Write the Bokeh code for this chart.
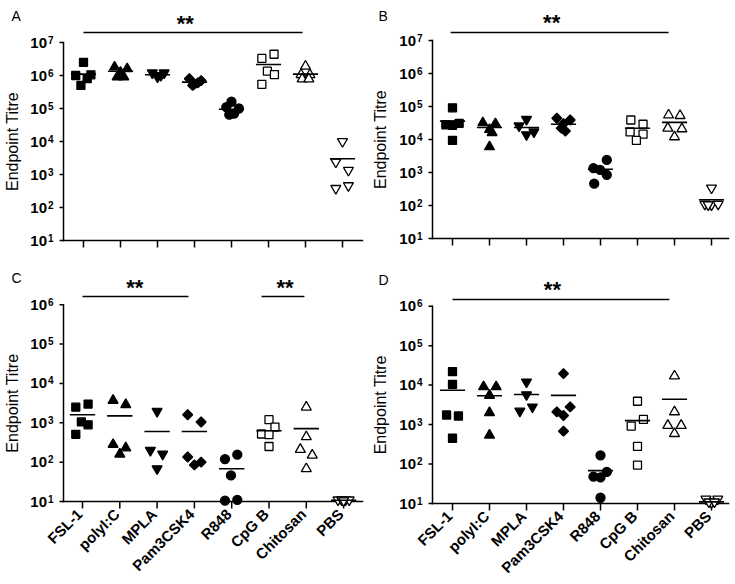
import math
from bokeh.plotting import figure
from bokeh.layouts import row, column
from bokeh.embed import file_html
from bokeh.resources import INLINE
from bokeh.core.properties import value

FONT = "Liberation Sans"

categories = ["FSL-1", "polyI:C", "MPLA", "Pam3CSK4", "R848", "CpG B", "Chitosan", "PBS"]

# ---- Panel A ----
A_values = [
    [2.5e6, 1.0e6, 1.05e6, 5e5, 8e5],
    [1.8e6, 1.6e6, 1.25e6, 9e5, 9e5],
    [1.2e6, 1.2e6, 9e5, 1.0e6],
    [8e5, 7e5, 5.5e5, 5e5, 6e5],
    [1.6e5, 1.1e5, 1.0e5, 6.5e4, 7e4],
    [3.3e6, 4.4e6, 1.35e6, 1.07e6, 5.4e5],
    [1.9e6, 1.05e6, 1.05e6, 7.8e5, 7.8e5],
    [1.0e4, 2.4e3, 1.35e3, 3.8e2, 4.6e2],
]
A_jitter = [
    [0, -0.21, 0.2, -0.07, 0.1],
    [-0.16, 0.18, 0, -0.09, 0.09],
    [-0.14, 0.18, 0, 0.09],
    [-0.14, 0.18, 0, -0.05, 0.09],
    [0, -0.14, 0.2, -0.06, 0.07],
    [-0.18, 0.15, -0.03, 0.16, -0.18],
    [0, -0.12, 0.12, -0.09, 0.09],
    [0, -0.18, 0.16, -0.18, 0.16],
]
A_means = [1.1e6, 1.35e6, 1.05e6, 6.3e5, 9.5e4, 2.15e6, 1.1e6, 3.0e3]

# ---- Panel B ----
B_values = [
    [9.1e4, 2.8e4, 3.1e4, 2.7e4, 9.4e3],
    [3.2e4, 3.0e4, 2.0e4, 1.6e4, 6e3],
    [4.1e4, 2.6e4, 1.7e4, 1.4e4],
    [4.4e4, 3.9e4, 3.0e4, 2.2e4, 1.8e4],
    [2.4e3, 1.35e3, 1.2e3, 8.5e2, 4.6e2],
    [3.9e4, 2.9e4, 1.7e4, 1.45e4, 9.4e3],
    [5.5e4, 5.3e4, 2.2e4, 2.1e4, 1.2e4],
    [3.4e2, 1.1e2, 1.05e2, 1.1e2, 1.05e2],
]
B_jitter = [
    [0, -0.18, 0.18, 0, 0],
    [-0.18, 0.16, 0, 0.07, 0],
    [0, -0.2, 0.2, 0],
    [-0.18, 0.18, 0, -0.06, 0.05],
    [0.17, -0.19, -0.01, 0.17, -0.17],
    [-0.18, 0.15, -0.2, 0.15, -0.03],
    [-0.16, 0.15, -0.18, 0.2, 0],
    [0, -0.18, 0, 0.18, -0.09],
]
B_means = [3.6e4, 2.3e4, 2.3e4, 2.9e4, 1.26e3, 2.2e4, 3.3e4, 1.5e2]

# ---- Panel C ----
C_values = [
    [2.5e3, 3.0e3, 1.05e3, 8.9e2, 5.1e2],
    [3.7e3, 2.9e3, 2.8e2, 2.3e2, 1.6e2],
    [1.95e3, 2.0e2, 1.6e2, 68],
    [1.6e3, 1.05e3, 1.35e2, 85, 1.0e2],
    [1.2e2, 1.55e2, 46, 10.5, 11],
    [1.2e3, 7.8e2, 5.2e2, 5.0e2, 2.5e2],
    [2.5e3, 4.4e2, 2.1e2, 1.5e2, 68],
    [11, 11, 11, 11, 10.5],
]
C_jitter = [
    [-0.18, 0.15, -0.03, 0.15, -0.18],
    [-0.18, 0.16, -0.18, 0.16, 0],
    [0, -0.18, 0.15, 0],
    [-0.18, 0.18, -0.18, 0, 0.18],
    [-0.18, 0.15, -0.02, -0.18, 0.15],
    [0, 0.16, -0.2, 0, 0],
    [0, 0, -0.16, 0.16, 0],
    [-0.15, -0.05, 0.05, 0.15, 0],
]
C_means = [1.6e3, 1.5e3, 6.0e2, 6.0e2, 68, 6.3e2, 7.1e2, 10.8]

# ---- Panel D ----
D_values = [
    [2.2e4, 1.05e4, 1.75e3, 1.65e3, 4.5e2],
    [9.1e3, 9.1e3, 5.5e3, 2.0e3, 5.4e2],
    [1.2e4, 5.7e3, 2.2e3, 2.8e3],
    [1.96e4, 2.8e3, 2.1e3, 1.7e3, 6.8e2],
    [1.66e2, 63, 48, 46, 14],
    [3.9e3, 1.35e3, 9.1e2, 2.8e2, 94],
    [1.7e4, 2.1e3, 9.5e2, 9.5e2, 5.9e2],
    [13, 13, 10.7, 11, 11],
]
D_jitter = [
    [0, 0, -0.16, 0.16, 0],
    [-0.16, 0.18, 0, 0, 0],
    [0, 0, -0.18, 0.16],
    [0, 0.18, -0.18, 0, 0],
    [0, 0.17, -0.19, 0, 0],
    [0, 0.16, -0.17, 0, 0],
    [0, 0, -0.18, 0.18, 0],
    [-0.15, 0.17, 0, -0.07, 0.08],
]
D_means = [7.4e3, 5.4e3, 5.8e3, 5.5e3, 68, 1.26e3, 4.4e3, 11]

# significance bars: (start category, end category, height, star position)
A_bars = [(0, 5.92, 2.0e7, 2.75)]
B_bars = [(-0.05, 5.84, 1.75e7, 2.68)]
C_bars = [(0, 2.84, 1.62e6, 1.4), (4.8, 5.95, 1.62e6, 5.43)]
D_bars = [(0, 5.86, 1.48e6, 2.7)]

marker_style = [
    ("square", True, 0.0, 8),
    ("triangle", True, 0.0, 10),
    ("inverted_triangle", True, 0.0, 10),
    ("square", True, math.pi / 4, 7),
    ("circle", True, 0.0, 9),
    ("square", False, 0.0, 8),
    ("triangle", False, 0.0, 10),
    ("inverted_triangle", False, 0.0, 10),
]

# page offsets of the layout (left / top), as measured in the rendered page
OFF_X, OFF_Y = 0, 0


def make_panel(letter, values, jitter, means, bars, left, top, W, H, cat0, spacing,
               y1, decade, top_decade, axis_x, axis_end, letter_xy, title_x, labels):
    """All geometry arguments are page pixels; the frame fills the whole canvas."""
    X = lambda px: (px - cat0) / spacing
    Y = lambda py: 10 ** (1 + (y1 - py) / decade)
    p = figure(width=W, height=H, x_range=(X(left), X(left + W)),
               y_range=(Y(top + H), Y(top)), y_axis_type="log",
               x_axis_location=None, y_axis_location=None, min_border=0,
               output_backend="svg", toolbar_location=None)
    p.outline_line_color = None
    for g in p.grid:
        g.visible = False

    ax = X(axis_x)
    k_ticks = list(range(1, top_decade + 1))
    tick_py = [y1 - (k - 1) * decade for k in k_ticks]
    # y axis
    p.segment(x0=[ax], y0=[10], x1=[ax], y1=[10 ** top_decade], line_color="black",
              line_width=1.5, line_cap="square")
    p.segment(x0=[X(axis_x - 4)] * len(k_ticks), y0=[10 ** k for k in k_ticks],
              x1=[ax] * len(k_ticks), y1=[10 ** k for k in k_ticks],
              line_color="black", line_width=1.5)
    p.text(x=[X(axis_x - 16.5)] * len(k_ticks), y=[10 ** k for k in k_ticks],
           text=["10"] * len(k_ticks), text_align="right", text_baseline="middle",
           text_font=value(FONT), text_font_size="15px", text_font_style="bold",
           text_color="black")
    p.text(x=[X(axis_x - 15.5)] * len(k_ticks), y=[Y(t - 3) for t in tick_py],
           text=[str(k) for k in k_ticks], text_align="left", text_baseline="middle",
           text_font=value(FONT), text_font_size="10px", text_font_style="bold",
           text_color="black")
    p.text(x=[X(title_x)], y=[Y((tick_py[0] + tick_py[-1]) / 2)],
           text=["Endpoint Titre"], angle=math.pi / 2, text_align="center",
           text_baseline="middle", text_font=value(FONT), text_font_size="16px",
           text_color="black")
    # x axis
    n = len(categories)
    p.segment(x0=[ax], y0=[10], x1=[X(axis_end)], y1=[10], line_color="black",
              line_width=1.5, line_cap="square")
    p.segment(x0=list(range(n)), y0=[10] * n, x1=list(range(n)), y1=[Y(y1 + 7)] * n,
              line_color="black", line_width=1.5)
    if labels:
        p.text(x=list(range(n)), y=[Y(y1 + 10)] * n, text=categories, x_offset=-3,
               angle=math.pi / 4, text_align="right", text_baseline="middle",
               text_font=value(FONT), text_font_size="15px", text_font_style="bold",
               text_color="black")

    # data
    for i, (vals, jit) in enumerate(zip(values, jitter)):
        marker, filled, angle, size = marker_style[i]
        xs = [i + j for j in jit]
        p.scatter(xs, vals, marker=marker, size=size, angle=angle,
                  fill_color="black" if filled else "white",
                  line_color="black", line_width=1.3)
        p.segment(x0=[i - 0.34], y0=[means[i]], x1=[i + 0.34], y1=[means[i]],
                  line_color="black", line_width=1.6)

    for (a, b, yv, sx) in bars:
        p.segment(x0=[a], y0=[yv], x1=[b], y1=[yv], line_color="black", line_width=1.5)
        p.text(x=[sx], y=[yv], text=["**"], text_align="center", text_baseline="bottom",
               text_font=value(FONT), text_font_size="22px", text_font_style="bold",
               text_color="black", y_offset=3)

    p.text(x=[X(letter_xy[0])], y=[Y(letter_xy[1])], text=[letter], text_align="left",
           text_baseline="top", text_font=value(FONT), text_font_size="14px",
           text_color="black")
    return p


TOP_H, BOT_H = 262, 314
LW, RW = 368, 366

pA = make_panel("A", A_values, A_jitter, A_means, A_bars, OFF_X, OFF_Y, LW, TOP_H,
                83, 37.0, 240, 33.0, 7, 63, 362, (11, 7), 12, False)
pB = make_panel("B", B_values, B_jitter, B_means, B_bars, OFF_X + LW, OFF_Y, RW, TOP_H,
                452, 37.0, 238, 33.0, 7, 432, 728, (378, 7), 12 + LW, False)
pC = make_panel("C", C_values, C_jitter, C_means, C_bars, OFF_X, OFF_Y + TOP_H, LW, BOT_H,
                82, 37.3, 501, 39.35, 6, 63, 362, (11, 269), 12, True)
pD = make_panel("D", D_values, D_jitter, D_means, D_bars, OFF_X + LW, OFF_Y + TOP_H, RW,
                BOT_H, 452, 37.0, 503, 39.46, 6, 432, 728, (378, 271), 12 + LW, True)

layout = column(row(pA, pB), row(pC, pD))
open("out.html", "w").write(file_html(layout, INLINE))
